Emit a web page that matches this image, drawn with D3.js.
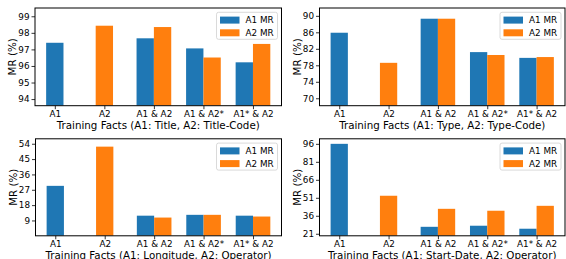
<!DOCTYPE html>
<html>
<head>
<meta charset="utf-8">
<script src="https://cdn.jsdelivr.net/npm/d3@7"></script>
<style>
  body { margin: 0; background: #fff; }
  svg { display: block; font-family: "DejaVu Sans", sans-serif; }
</style>
</head>
<body>
<svg id="chart" width="566" height="259"></svg>
<script>
// categories on the x axis (same for every panel)
var categories = ["A1", "A2", "A1 & A2", "A1 & A2*", "A1* & A2"];
var seriesNames = ["A1 MR", "A2 MR"];

// panel x labels
var xLabels = [
	"Training Facts (A1: Title, A2: Title-Code)",
	"Training Facts (A1: Type, A2: Type-Code)",
	"Training Facts (A1: Longitude, A2: Operator)",
	"Training Facts (A1: Start-Date, A2: Operator)"
];

// values (null = no bar)
var titleA1 = [97.4, null, 97.67, 97.06, 96.22];
var titleA2 = [null, 98.43, 98.35, 96.51, 97.33];

var typeA1 = [85.9, null, 89.3, 81.2, 79.8];
var typeA2 = [null, 78.6, 89.3, 80.5, 80.0];

var longA1 = [29.3, null, 11.8, 12.3, 11.8];
var longA2 = [null, 52.3, 10.7, 12.3, 11.3];

var dateA1 = [96.0, null, 26.8, 27.7, 25.2];
var dateA2 = [null, 52.7, 41.8, 40.2, 44.3];

// y tick labels
var titleTicks = [94, 95, 96, 97, 98, 99];
var typeTicks = [70, 74, 78, 82, 86, 90];
var longTicks = [9, 18, 27, 36, 45, 54];
var dateTicks = [21, 36, 51, 66, 81, 96];

var colors = ["#1f77b4", "#ff7f0e"];

// panel boxes and y limits
var panels = [
	{a1: titleA1, a2: titleA2, ticks: titleTicks, ylim: [93.6, 99.5], label: xLabels[0], x0: 35, x1: 281.5, y0: 8, y1: 105.7},
	{a1: typeA1, a2: typeA2, ticks: typeTicks, ylim: [68.2, 91.9], label: xLabels[1], x0: 319.5, x1: 565, y0: 8, y1: 105.7},
	{a1: longA1, a2: longA2, ticks: longTicks, ylim: [0, 56.9], label: xLabels[2], x0: 35.5, x1: 281.5, y0: 138.8, y1: 235.8},
	{a1: dateA1, a2: dateA2, ticks: dateTicks, ylim: [19.3, 100.2], label: xLabels[3], x0: 319.5, x1: 565, y0: 138.8, y1: 235.8}
];

var svg = d3.select("#chart");
var barW = 0.35;

panels.forEach(function(p) {
	var g = svg.append("g");

	var x = d3.scaleLinear()
		.domain([-0.4, 4.576])
		.range([p.x0, p.x1]);
	var y = d3.scaleLinear()
		.domain(p.ylim)
		.range([p.y1, p.y0]);

	// clip bars to the axes box
	var clipId = "clip" + Math.round(p.x0) + "_" + Math.round(p.y0);
	g.append("clipPath").attr("id", clipId)
		.append("rect")
		.attr("x", p.x0).attr("y", p.y0)
		.attr("width", p.x1 - p.x0).attr("height", p.y1 - p.y0);

	// build bar list: singles are centred, pairs sit side by side
	var bars = [];
	categories.forEach(function(c, i) {
		var v1 = p.a1[i], v2 = p.a2[i];
		var both = v1 != null && v2 != null;
		if (v1 != null) bars.push({pos: both ? i - barW / 2 : i, v: v1, s: 0});
		if (v2 != null) bars.push({pos: both ? i + barW / 2 : i, v: v2, s: 1});
	});

	g.append("g").attr("clip-path", "url(#" + clipId + ")")
		.selectAll("rect")
		.data(bars)
		.enter()
		.append("rect")
		.attr("x", function(d) { return x(d.pos - barW / 2); })
		.attr("width", function(d) { return x(d.pos + barW / 2) - x(d.pos - barW / 2); })
		.attr("y", function(d) { return y(d.v); })
		.attr("height", function(d) { return y(p.ylim[0]) - y(d.v); })
		.attr("fill", function(d) { return colors[d.s]; });

	// y axis
	var yAxis = g.append("g")
		.attr("transform", "translate(" + p.x0 + ",0)")
		.call(d3.axisLeft(y).tickValues(p.ticks).tickSize(3.5).tickPadding(2).tickFormat(d3.format("d")));
	yAxis.select(".domain").remove();
	yAxis.selectAll("text").attr("font-size", 8.8).attr("fill", "#000").attr("font-family", "DejaVu Sans");
	yAxis.selectAll("line").attr("stroke", "#000").attr("stroke-width", 0.8);

	// x axis
	var xAxis = g.append("g")
		.attr("transform", "translate(0," + p.y1 + ")")
		.call(d3.axisBottom(x).tickValues(d3.range(categories.length)).tickSize(3.5).tickPadding(1.5)
			.tickFormat(function(d) { return categories[d]; }));
	xAxis.select(".domain").remove();
	xAxis.selectAll("text").attr("font-size", 8.8).attr("fill", "#000").attr("font-family", "DejaVu Sans");
	xAxis.selectAll("line").attr("stroke", "#000").attr("stroke-width", 0.8);

	// frame
	g.append("rect")
		.attr("x", p.x0).attr("y", p.y0)
		.attr("width", p.x1 - p.x0).attr("height", p.y1 - p.y0)
		.attr("fill", "none")
		.attr("stroke", "#000")
		.attr("stroke-width", 1);

	// axis labels
	g.append("text")
		.attr("x", (p.x0 + p.x1) / 2)
		.attr("y", p.y1 + 23)
		.attr("text-anchor", "middle")
		.attr("font-size", 10.3)
		.text(p.label);

	g.append("text")
		.attr("transform", "translate(" + (p.x0 - 19) + "," + ((p.y0 + p.y1) / 2) + ") rotate(-90)")
		.attr("text-anchor", "middle")
		.attr("font-size", 10.3)
		.text("MR (%)");

	// legend
	var lx = p.x1 - 65, ly = p.y0 + 4.3;
	var leg = g.append("g").attr("transform", "translate(" + lx + "," + ly + ")");
	leg.append("rect")
		.attr("width", 61).attr("height", 27)
		.attr("rx", 2)
		.attr("fill", "#fff").attr("fill-opacity", 0.8)
		.attr("stroke", "#d0d0d0").attr("stroke-width", 0.8);
	seriesNames.forEach(function(name, i) {
		leg.append("rect")
			.attr("x", 3.5).attr("y", 4.3 + i * 12.7)
			.attr("width", 19.5).attr("height", 7)
			.attr("fill", colors[i]);
		leg.append("text")
			.attr("x", 29).attr("y", 11 + i * 12.7)
			.attr("font-size", 8.8)
			.text(name);
	});
});
</script>
</body>
</html>
